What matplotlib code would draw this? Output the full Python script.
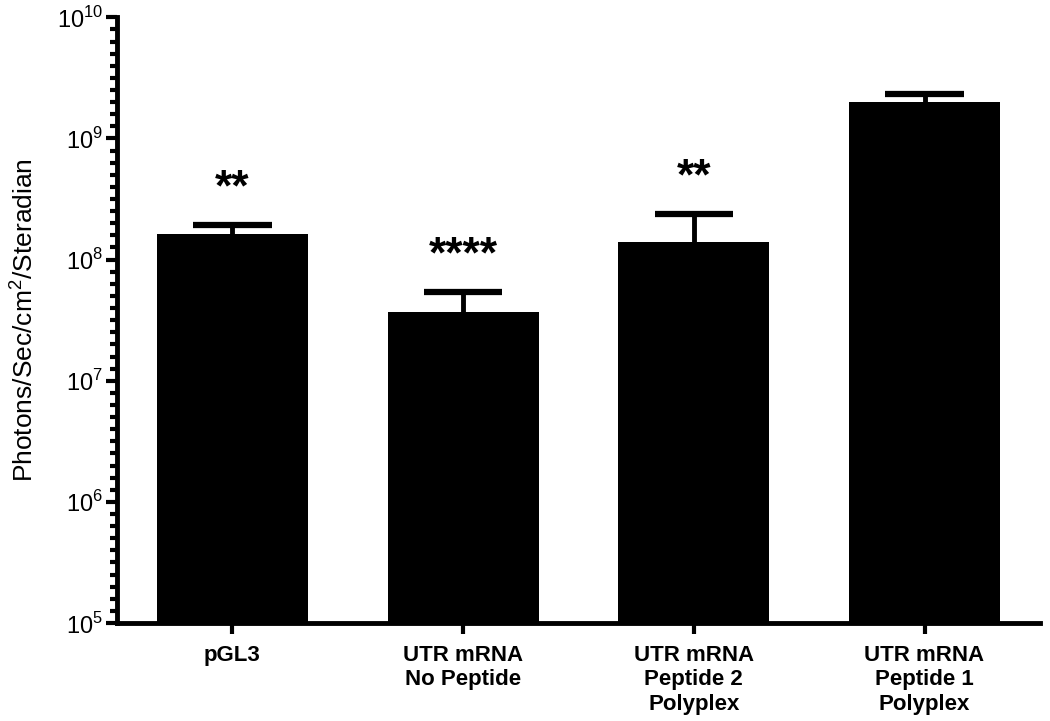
import numpy as np
import matplotlib.pyplot as plt
from matplotlib.ticker import FixedLocator, NullFormatter

plt.rcParams['font.family'] = ['Liberation Sans', 'DejaVu Sans']
plt.rcParams['mathtext.fontset'] = 'custom'
plt.rcParams['mathtext.rm'] = 'Liberation Sans'

# data
groups = ["pGL3", "UTR mRNA\nNo Peptide", "UTR mRNA\nPeptide 2\nPolyplex", "UTR mRNA\nPeptide 1\nPolyplex"]
means = [1.62e8, 3.7e7, 1.39e8, 2.0e9]
errors = [0.3e8, 1.68e7, 0.98e8, 0.32e9]
stars = ["**", "****", "**", ""]

fig = plt.figure(figsize=(10.5, 7.21), dpi=100)
ax = fig.add_axes([0.1114, 0.1359, 0.879, 0.8401])

x = np.arange(len(groups))
tops = np.array(means) + np.array(errors)
ax.bar(x, means, width=0.655, color="black", bottom=1e5, zorder=2)
# upper error only, like the original
ax.vlines(x, means, tops, color="black", linewidth=3.5, zorder=3)
ax.hlines(tops, x - 0.17, x + 0.17, color="black", linewidth=4.5, zorder=3)

for xi, t, s in zip(x, tops, stars):
    if s:
        ax.text(xi, t * 2.0, s, ha="center", va="center",
                fontsize=32, fontweight="bold")

ax.set_yscale("log")
ax.set_ylim(1e5, 1e10)
ax.set_xlim(-0.5, 3.5)

ax.set_yticks([1e5, 1e6, 1e7, 1e8, 1e9, 1e10])
ax.set_yticklabels([r"$10^{5}$", r"$10^{6}$", r"$10^{7}$", r"$10^{8}$", r"$10^{9}$", r"$10^{10}$"],
                   fontsize=17)
minor = [10 ** (k + i / 10) for k in range(5, 10) for i in range(1, 10)]
ax.yaxis.set_minor_locator(FixedLocator(minor))
ax.yaxis.set_minor_formatter(NullFormatter())

ax.set_xticks(x)
ax.set_xticklabels(groups, fontsize=16, fontweight="bold", va="top", linespacing=1.2)
ax.tick_params(axis="x", length=8, width=3, pad=8)
ax.tick_params(axis="y", which="major", length=8, width=3, pad=2)
ax.tick_params(axis="y", which="minor", length=5, width=3)

ax.spines["top"].set_visible(False)
ax.spines["right"].set_visible(False)
ax.spines["left"].set_linewidth(3.5)
ax.spines["bottom"].set_linewidth(3.5)

ax.set_ylabel(r"Photons/Sec/cm$^{2}$/Steradian", fontsize=19, labelpad=14)

fig.savefig("out.png", dpi=100)
